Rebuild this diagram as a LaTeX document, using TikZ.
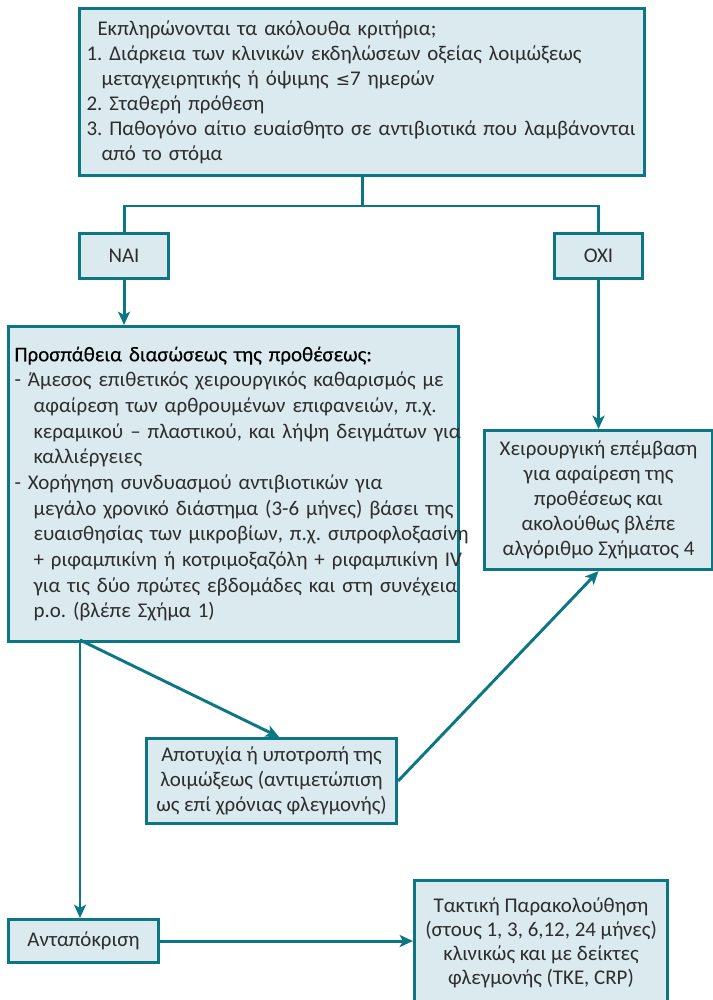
\documentclass[tikz,border=0pt]{standalone}
\usepackage{fontspec}
\setmainfont{Carlito}
\newfontfamily\symfont{DejaVu Sans}
\usetikzlibrary{arrows.meta,calc}

\definecolor{edgeteal}{RGB}{12,118,133}
\definecolor{boxfill}{RGB}{218,234,239}
\definecolor{textgray}{RGB}{45,45,45}

\newdimen\unitpx
\unitpx=0.75pt
% one unbreakable line of a left-aligned list
\newcommand{\listline}[2][0]{\mbox{\hspace*{#1\unitpx}#2}}

\tikzset{
  box/.style={draw=edgeteal, fill=boxfill, line width=2.3pt, text=textgray,
    font=\fontsize{15.7}{18.75}\selectfont\frenchspacing, inner sep=0pt},
  link/.style={draw=edgeteal, line width=2.2pt},
  arrow/.style={link, -{Stealth[length=10pt, width=9pt, inset=2.5pt]}},
}

\begin{document}
\begin{tikzpicture}[x=0.75pt, y=-0.75pt]
\clip (0,0) rectangle (713,1000);

% criteria box
\node[box, anchor=north west, minimum width=565\unitpx, minimum height=167\unitpx,
      text width=551\unitpx, align=left] (crit) at (78,7) {%
\listline[11]{Εκπληρώνονται τα ακόλουθα κριτήρια;}\\
\listline{1. Διάρκεια των κλινικών εκδηλώσεων οξείας λοιμώξεως}\\
\listline[15]{μεταγχειρητικής ή όψιμης {\fontsize{12.8}{13}\symfont ≤}7 ημερών}\\
\listline{2. Σταθερή πρόθεση}\\
\listline{3. Παθογόνο αίτιο ευαίσθητο σε αντιβιοτικά που λαμβάνονται}\\
\listline[15]{από το στόμα}};

% decision boxes
\node[box, anchor=north west, minimum width=89\unitpx, minimum height=45\unitpx] (yes) at (78,232) {ΝΑΙ};
\node[box, anchor=north west, minimum width=88\unitpx, minimum height=45\unitpx] (no) at (553,232) {ΟΧΙ};

% salvage attempt
\node[box, anchor=north west, minimum width=450\unitpx, minimum height=315\unitpx,
      text width=438\unitpx, align=left,
      font=\fontsize{15.7}{19.25}\selectfont\frenchspacing] (salv) at (7,325) {%
\listline{\color{black}\addfontfeatures{FakeBold=0.3}Προσπάθεια διασώσεως της προθέσεως:}\\
\listline{- Άμεσος επιθετικός χειρουργικός καθαρισμός με}\\
\listline[19]{αφαίρεση των αρθρουμένων επιφανειών, π.χ.}\\
\listline[19]{κεραμικού – πλαστικού, και λήψη δειγμάτων για}\\
\listline[19]{καλλιέργειες}\\
\listline{- Χορήγηση συνδυασμού αντιβιοτικών για}\\
\listline[19]{μεγάλο χρονικό διάστημα (3-6 μήνες) βάσει της}\\
\listline[19]{ευαισθησίας των μικροβίων, π.χ. σιπροφλοξασίνη}\\
\listline[19]{+ ριφαμπικίνη ή κοτριμοξαζόλη + ριφαμπικίνη IV}\\
\listline[19]{για τις δύο πρώτες εβδομάδες και στη συνέχεια}\\
\listline[19]{p.o. (βλέπε Σχήμα 1)}};

% surgical removal
\node[box, anchor=north west, minimum width=228\unitpx, minimum height=139\unitpx,
      align=center] (surg) at (483,429) {%
Χειρουργική επέμβαση\\ για αφαίρεση της\\ προθέσεως και\\ ακολούθως βλέπε\\ αλγόριθμο Σχήματος 4};

% failure / relapse
\node[box, anchor=north west, minimum width=250\unitpx, minimum height=85\unitpx,
      align=center] (fail) at (145,737) {%
Αποτυχία ή υποτροπή της\\ λοιμώξεως (αντιμετώπιση\\ ως επί χρόνιας φλεγμονής)};

% response
\node[box, anchor=north west, minimum width=150\unitpx, minimum height=43\unitpx] (resp) at (7,918) {Ανταπόκριση};

% follow-up
\node[box, anchor=north west, minimum width=253\unitpx, minimum height=124\unitpx,
      align=center, font=\fontsize{15.7}{18}\selectfont\frenchspacing] (follow) at (413,879) {%
Τακτική Παρακολούθηση\\ (στους 1, 3, 6,12, 24 μήνες)\\ κλινικώς και με δείκτες\\ φλεγμονής (ΤΚΕ, CRP)};

% connectors
\coordinate (split) at (crit.south |- 0,206);
\coordinate (fork) at (80,640);
\draw[link] (crit.south) -- (split);
\draw[link] (split) -| (yes.north);
\draw[link] (split) -| (no.north);
\draw[arrow] (yes.south) -- (yes.south |- salv.north);
\draw[arrow] (no.south) -- (no.south |- surg.north);
\draw[arrow] (fork) -- ($(fail.north west)!0.53!(fail.north east)$);
\draw[arrow] (fail.east) -- (surg.south);
\draw[arrow] (fork) -- (fork |- resp.north);
\draw[arrow] (resp.east) -- (resp.east -| follow.west);
\end{tikzpicture}
\end{document}
